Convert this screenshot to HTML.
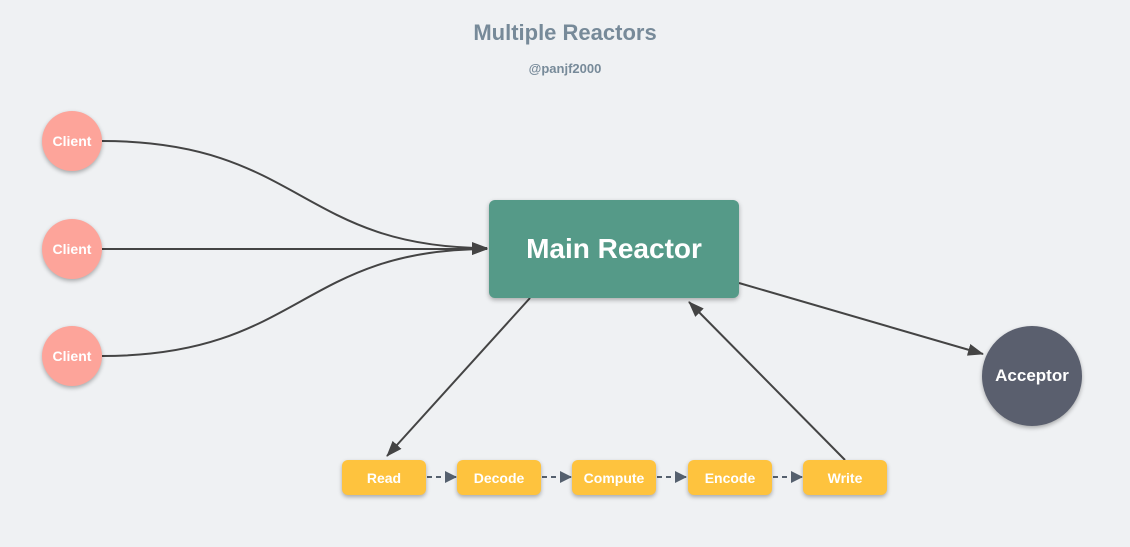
<!DOCTYPE html>
<html><head><style>
body{margin:0;width:1130px;height:547px;background:#eff1f3;font-family:"Liberation Sans",sans-serif;position:relative;overflow:hidden}
.t{position:absolute;left:0;width:1130px;text-align:center;color:#778a99;font-weight:bold}
.c{position:absolute;width:60px;height:60px;border-radius:50%;background:#fda49a;color:#fff;font-weight:bold;font-size:14px;display:flex;align-items:center;justify-content:center;box-shadow:0 2px 4px rgba(0,0,0,.3)}
.b{position:absolute;top:460px;height:35px;width:84px;border-radius:6px;background:#fec33e;color:#fff;font-weight:bold;font-size:14px;display:flex;align-items:center;justify-content:center;box-shadow:0 2px 4px rgba(0,0,0,.3)}
</style></head><body>
<div class="t" style="top:20px;font-size:22px">Multiple Reactors</div>
<div class="t" style="top:61px;font-size:13px">@panjf2000</div>
<svg width="1130" height="547" style="position:absolute;left:0;top:0">
<defs><marker id="a" markerWidth="10" markerHeight="8" refX="9" refY="4" orient="auto" markerUnits="userSpaceOnUse"><path d="M0,0L10,4L0,8z" fill="#444"/></marker>
<marker id="d" markerWidth="12" markerHeight="12" refX="11" refY="6" orient="auto" markerUnits="userSpaceOnUse"><path d="M0,0L12,6L0,12z" fill="#55606e"/></marker>
<marker id="l" markerWidth="16" markerHeight="12" refX="15" refY="6" orient="auto" markerUnits="userSpaceOnUse"><path d="M0,0L16,6L0,12z" fill="#444"/></marker></defs>
<g stroke="#444" stroke-width="2" fill="none">
<path d="M102,141 C300,141 300,248 487,248" marker-end="url(#l)"/>
<path d="M102,249 L487,249" marker-end="url(#l)"/>
<path d="M102,356 C300,356 300,249 487,249" marker-end="url(#l)"/>
<path d="M530,298 L387,456" marker-end="url(#l)"/>
<path d="M845,460 L689,302" marker-end="url(#l)"/>
<path d="M739,283 L983,354" marker-end="url(#l)"/>
</g>
<g stroke="#55606e" stroke-width="2" stroke-dasharray="5,4" fill="none">
<path d="M427,477 L456,477" marker-end="url(#d)"/>
<path d="M542,477 L571,477" marker-end="url(#d)"/>
<path d="M657,477 L686,477" marker-end="url(#d)"/>
<path d="M773,477 L802,477" marker-end="url(#d)"/>
</g>
</svg>
<div class="c" style="left:42px;top:111px">Client</div>
<div class="c" style="left:42px;top:219px">Client</div>
<div class="c" style="left:42px;top:326px">Client</div>
<div style="position:absolute;left:489px;top:200px;width:250px;height:98px;border-radius:6px;background:#559a88;color:#fff;font-weight:bold;font-size:28px;display:flex;align-items:center;justify-content:center;box-shadow:0 2px 5px rgba(0,0,0,.3)">Main Reactor</div>
<div class="c" style="left:982px;top:326px;width:100px;height:100px;background:#5a5f6e;font-size:17px">Acceptor</div>
<div class="b" style="left:342px">Read</div>
<div class="b" style="left:457px">Decode</div>
<div class="b" style="left:572px">Compute</div>
<div class="b" style="left:688px">Encode</div>
<div class="b" style="left:803px">Write</div>
</body></html>
